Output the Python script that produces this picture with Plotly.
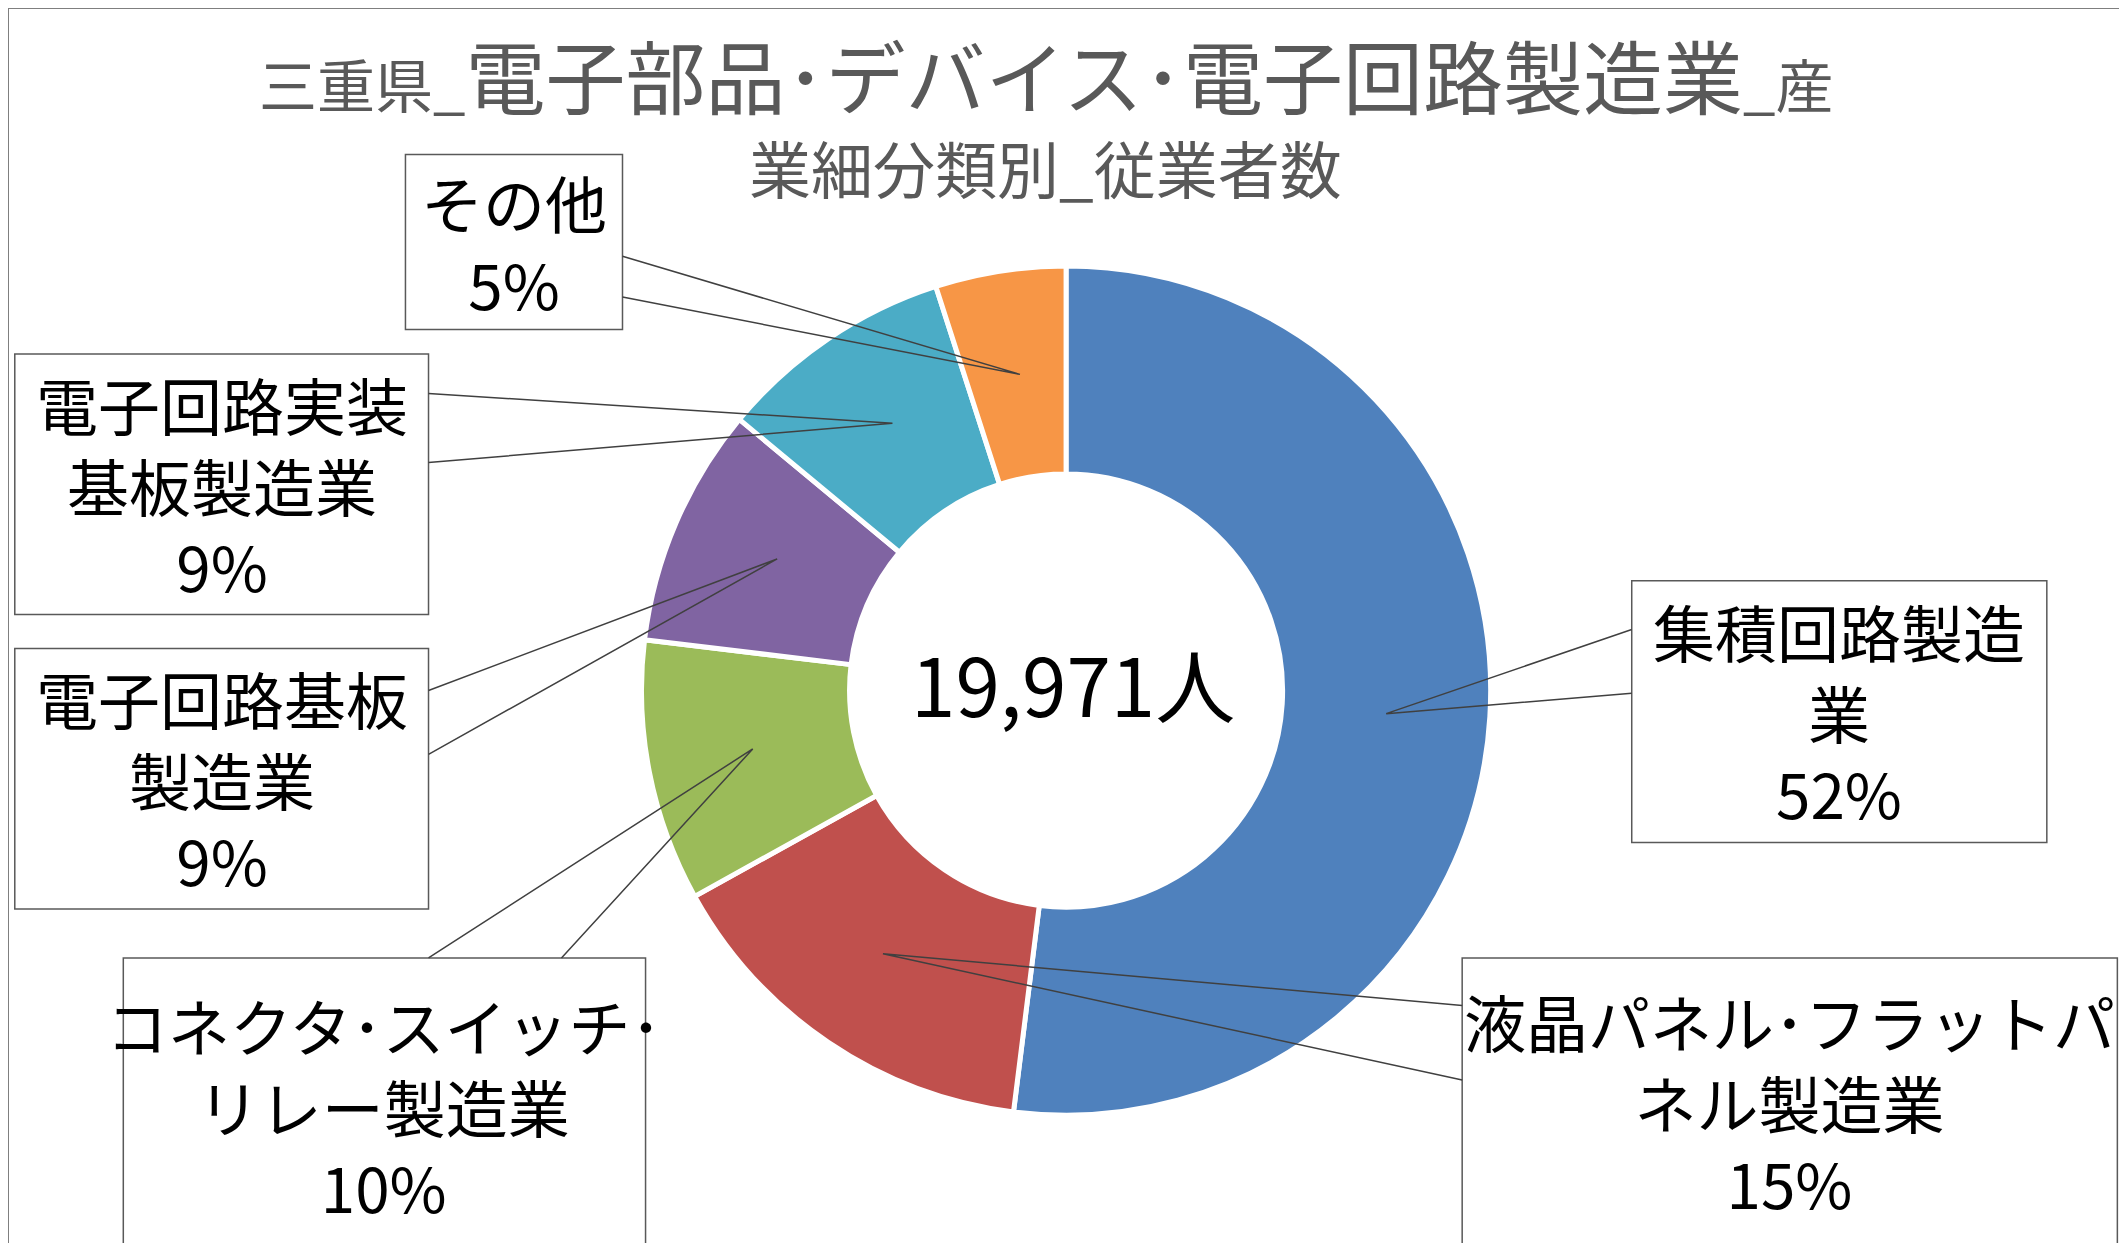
import plotly.graph_objects as go

W, H = 2127, 1243
BW, BH = 1568, 916  # layout grid used for placing callouts


def p(x, y):
    return x / BW, 1 - y / BH


labels = ["集積回路製造業", "液晶パネル・フラットパネル製造業", "コネクタ・スイッチ・リレー製造業",
          "電子回路基板製造業", "電子回路実装基板製造業", "その他"]
values = [10380, 2990, 1990, 1820, 1800, 991]
colors = ["#4F81BD", "#C0504D", "#9BBB59", "#8064A2", "#4BACC6", "#F79646"]
box_text = ["集積回路製造<br>業<br>52%", "液晶パネル･フラットパ<br>ネル製造業<br>15%",
            "コネクタ･スイッチ･<br>リレー製造業<br>10%", "電子回路基板<br>製造業<br>9%",
            "電子回路実装<br>基板製造業<br>9%", "その他<br>5%"]
total_text = "19,971人"

boxes = [(1197, 422, 1503, 615), (1072, 700, 1555, 912), (85, 700, 470, 918),
         (5, 472, 310, 664), (5, 255, 310, 447), (293, 108, 453, 237)]
leaders = [((1197, 458), (1197, 505), (1016, 520)),
           ((1072, 735), (1072, 790), (645, 697)),
           ((310, 700), (408, 700), (549, 546)),
           ((310, 503), (310, 550), (567, 406)),
           ((310, 284), (310, 335), (652, 306)),
           ((453, 183), (453, 213), (746, 270))]

font = "Noto Sans CJK JP"
fig = go.Figure(go.Pie(
    labels=labels, values=values, hole=0.51, sort=False, direction="clockwise",
    rotation=0, textinfo="none", showlegend=False,
    marker=dict(colors=colors, line=dict(color="white", width=5)),
    domain=dict(x=[(780 - 313) / BW, (780 + 313) / BW], y=[1 - 816 / BH, 1 - 190 / BH]),
))

shapes = [dict(type="rect", xref="paper", yref="paper", x0=0, y0=0, x1=1, y1=1,
               line=dict(color="#7f7f7f", width=2))]
ann = []
for (x0, y0, x1, y1), t in zip(boxes, box_text):
    a, b = p(x0, y0)
    c, d = p(x1, y1)
    shapes.append(dict(type="rect", xref="paper", yref="paper", x0=a, y0=d, x1=c, y1=b,
                       line=dict(color="#595959", width=1.5), fillcolor="white"))
    cx, cy = p((x0 + x1) / 2, (y0 + y1) / 2)
    ann.append(dict(x=cx, y=cy, xref="paper", yref="paper", text=t, showarrow=False,
                    xanchor="center", yanchor="middle",
                    font=dict(family=font, size=62, color="black"), align="center"))
for a, b, tip in leaders:
    pts = [p(*a), p(*tip), p(*b)]
    path = "M {} {} L {} {} L {} {}".format(*[v for pt in pts for v in pt])
    shapes.append(dict(type="path", xref="paper", yref="paper", path=path,
                       line=dict(color="#404040", width=1.5)))

tx, ty = p(765, 48)
ann.append(dict(x=tx, y=ty, xref="paper", yref="paper", showarrow=False,
                xanchor="center", yanchor="middle",
                text="<span style='font-size:58px'>三重県_</span>電子部品･デバイス･電子回路製造業<span style='font-size:58px'>_産</span>",
                font=dict(family=font, size=80, color="#595959")))
sx, sy = p(765, 117)
ann.append(dict(x=sx, y=sy, xref="paper", yref="paper", showarrow=False, text="業細分類別_従業者数",
                xanchor="center", yanchor="middle",
                font=dict(family=font, size=62, color="#595959")))
cx, cy = p(785, 497)
ann.append(dict(x=cx, y=cy, xref="paper", yref="paper", showarrow=False, text=total_text,
                xanchor="center", yanchor="middle",
                font=dict(family=font, size=80, color="black")))

fig.update_layout(width=W, height=H, margin=dict(l=0, r=0, t=0, b=0),
                  paper_bgcolor="white", shapes=shapes, annotations=ann)
fig.write_html("out.html")
